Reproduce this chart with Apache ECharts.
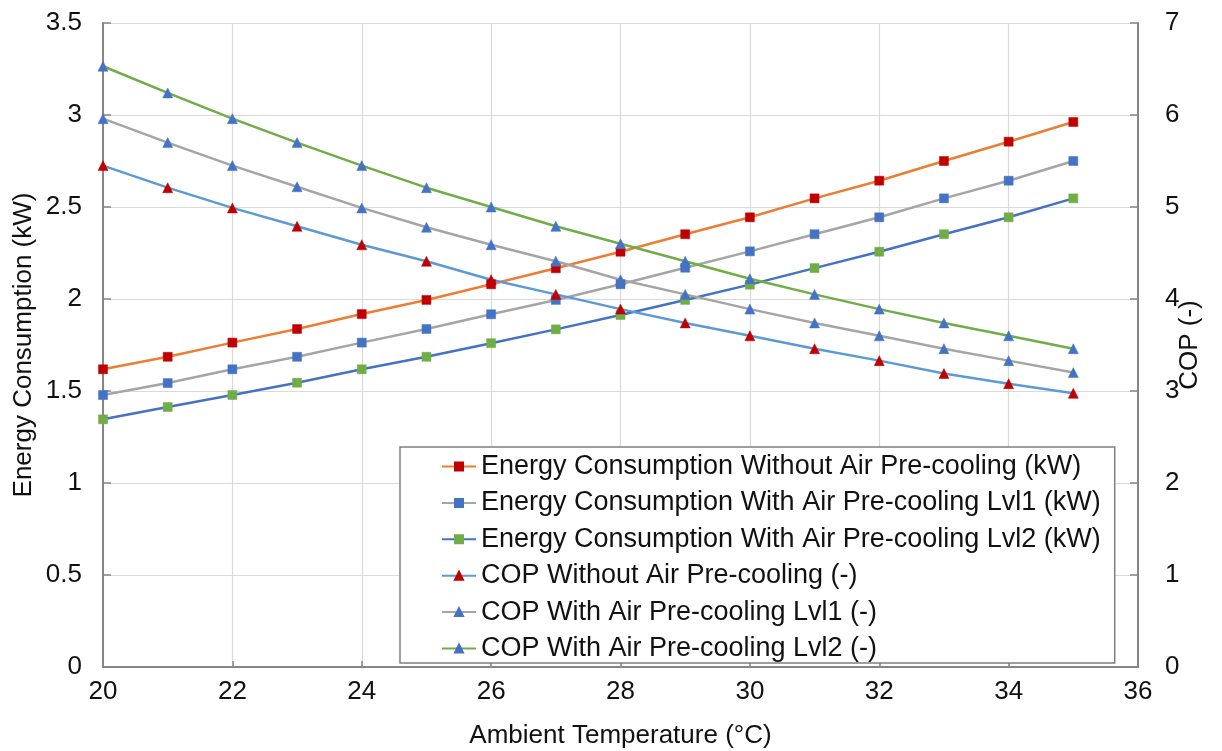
<!DOCTYPE html>
<html>
<head>
<meta charset="utf-8">
<script src="https://cdn.jsdelivr.net/npm/echarts@6/dist/echarts.min.js"></script>
<style>
html,body{margin:0;padding:0;background:#fff;overflow:hidden;}
#c{width:1222px;height:751px;}
</style>
</head>
<body>
<div id="c"></div>
<script>
const temps = [20,21,22,23,24,25,26,27,28,29,30,31,32,33,34,35];
const energyWithout = [1.618,1.686,1.763,1.837,1.918,1.995,2.080,2.167,2.257,2.352,2.444,2.547,2.643,2.750,2.855,2.962];
const energyLvl1 = [1.478,1.543,1.618,1.686,1.763,1.837,1.917,1.995,2.080,2.170,2.259,2.352,2.444,2.547,2.643,2.750];
const energyLvl2 = [1.346,1.413,1.478,1.545,1.618,1.686,1.760,1.835,1.913,1.995,2.078,2.168,2.257,2.352,2.444,2.547];
const copWithout = [5.45,5.21,4.99,4.79,4.59,4.41,4.21,4.05,3.89,3.74,3.60,3.46,3.33,3.19,3.08,2.975];
const copLvl1 = [5.96,5.70,5.45,5.22,4.99,4.78,4.59,4.41,4.21,4.05,3.89,3.74,3.60,3.46,3.33,3.20];
const copLvl2 = [6.53,6.24,5.96,5.70,5.45,5.21,5.00,4.79,4.60,4.41,4.22,4.05,3.89,3.74,3.60,3.46];
const names = [
  'Energy Consumption Without Air Pre-cooling (kW)',
  'Energy Consumption With Air Pre-cooling Lvl1 (kW)',
  'Energy Consumption With Air Pre-cooling Lvl2 (kW)',
  'COP Without Air Pre-cooling (-)',
  'COP With Air Pre-cooling Lvl1 (-)',
  'COP With Air Pre-cooling Lvl2 (-)'
];

const FONT = '"Liberation Sans", Arial, sans-serif';
const pair = arr => temps.map((t,i)=>[t, arr[i]]);
function mk(name, data, yIdx, lineColor, markColor, symbol){
  return {
    name, type:'line', yAxisIndex:yIdx, data:pair(data),
    symbol, symbolSize: symbol==='triangle'?10:9,
    showSymbol:true,
    lineStyle:{color:lineColor,width:2.5},
    itemStyle:{color:markColor,borderColor:markColor,borderWidth:0.5},
    color: lineColor,
    emphasis:{disabled:true}, animation:false
  };
}
const chart = echarts.init(document.getElementById('c'), null, {renderer:'canvas'});
chart.setOption({
  animation:false,
  backgroundColor:'#fff',
  textStyle:{fontFamily:FONT},
  grid:{left:103,right:84,top:23,bottom:84,containLabel:false,outerBoundsMode:'none'},
  legend:{
    orient:'vertical', left:400, top:447,
    padding:[6,14,1,41],
    itemWidth:34, itemHeight:10, itemGap:9.4,
    backgroundColor:'#fff', borderColor:'#7f7f7f', borderWidth:1.5, borderRadius:0,
    textStyle:{fontSize:27,color:'#111',fontFamily:FONT},
    data:names
  },
  xAxis:{
    type:'value', min:20, max:36, interval:2,
    name:'Ambient Temperature (°C)', nameLocation:'middle', nameGap:56, nameMoveOverlap:false,
    nameTextStyle:{fontSize:26,color:'#111',fontFamily:FONT},
    axisLine:{show:true,onZero:false,lineStyle:{color:'#868686',width:2}},
    axisTick:{show:true,inside:true,length:6,lineStyle:{color:'#868686',width:1.5}},
    axisLabel:{fontSize:26,color:'#111',margin:12,fontFamily:FONT},
    splitLine:{show:true,lineStyle:{color:'#d9d9d9',width:1.2}}
  },
  yAxis:[{
    type:'value', min:0, max:3.5, interval:0.5, position:'left',
    name:'Energy Consumption (kW)', nameLocation:'middle', nameGap:66, nameRotate:90, nameMoveOverlap:false,
    nameTextStyle:{fontSize:26,color:'#111',fontFamily:FONT},
    axisLine:{show:true,lineStyle:{color:'#868686',width:2}},
    axisTick:{show:true,inside:true,length:8,lineStyle:{color:'#868686',width:1.5}},
    axisLabel:{fontSize:26,color:'#111',margin:21,fontFamily:FONT},
    splitLine:{show:true,lineStyle:{color:'#d9d9d9',width:1.2}}
  },{
    type:'value', min:0, max:7, interval:1, position:'right',
    name:'COP (-)', nameLocation:'middle', nameGap:39, nameRotate:90, nameMoveOverlap:false,
    nameTextStyle:{fontSize:26,color:'#111',fontFamily:FONT},
    axisLine:{show:true,lineStyle:{color:'#868686',width:2}},
    axisTick:{show:true,inside:true,length:8,lineStyle:{color:'#868686',width:1.5}},
    axisLabel:{fontSize:26,color:'#111',margin:27,fontFamily:FONT},
    splitLine:{show:false}
  }],
  series:[
    mk(names[0], energyWithout, 0, '#ED7D31', '#C00000', 'rect'),
    mk(names[1], energyLvl1, 0, '#A5A5A5', '#4472C4', 'rect'),
    mk(names[2], energyLvl2, 0, '#4472C4', '#70AD47', 'rect'),
    mk(names[3], copWithout, 1, '#5B9BD5', '#C00000', 'triangle'),
    mk(names[4], copLvl1, 1, '#A5A5A5', '#4472C4', 'triangle'),
    mk(names[5], copLvl2, 1, '#70AD47', '#4472C4', 'triangle')
  ]
});
</script>
</body>
</html>
